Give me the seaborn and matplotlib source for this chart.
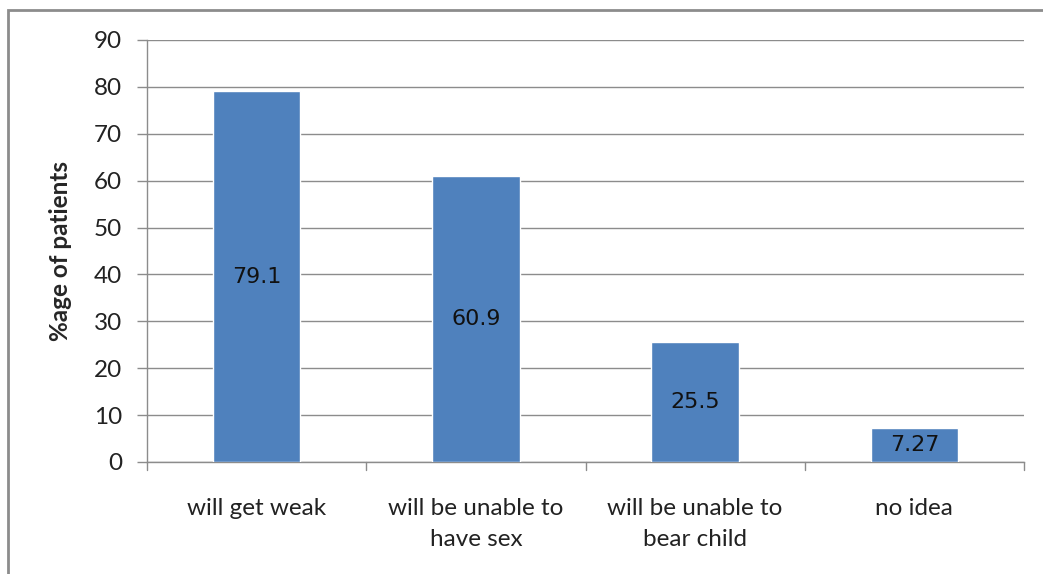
import matplotlib
matplotlib.use('Agg')
import matplotlib.pyplot as plt
import seaborn as sns
import pandas as pd
from matplotlib.patches import Rectangle

categories = ['will get weak', 'will be unable to\nhave sex', 'will be unable to\nbear child', 'no idea']
values = [79.1, 60.9, 25.5, 7.27]
labels = ['79.1', '60.9', '25.5', '7.27']
yticks = [0, 10, 20, 30, 40, 50, 60, 70, 80, 90]

sns.set_style('white')
plt.rcParams['font.family'] = ['Lato', 'DejaVu Sans']

df = pd.DataFrame({'cat': categories, 'val': values})

fig = plt.figure(figsize=(10.43, 5.74), dpi=100)
ax = fig.add_axes([147 / 1043, 1 - 462 / 574, (1024 - 147) / 1043, (462 - 40) / 574])

sns.barplot(data=df, x='cat', y='val', color='#4F81BD', saturation=1, width=0.4, ax=ax, zorder=3)

ax.set_ylim(0, 90)
ax.set_xlim(-0.5, 3.5)
ax.set_yticks(yticks)
ax.set_yticklabels([str(t) for t in yticks], fontsize=17.5, color='#222222')
ax.set_xticks(range(len(categories)))
ax.set_xticklabels(categories, fontsize=17.5, color='#222222', linespacing=1.6)
ax.tick_params(axis='x', length=0, pad=26)
ax.tick_params(axis='y', length=7, width=1, color='#8c8c8c', pad=11, left=True)
ax.set_xlabel('')
ax.set_ylabel('%age of patients', fontsize=17.5, fontweight='bold', labelpad=16)
ax.yaxis.grid(True, color='#8c8c8c', linewidth=1, zorder=0)
ax.set_axisbelow(True)

for s in ['top', 'right']:
    ax.spines[s].set_visible(False)
for s in ['left', 'bottom']:
    ax.spines[s].set_color('#8c8c8c')
    ax.spines[s].set_linewidth(1)

# category boundary ticks under the x axis
for b in [-0.5, 0.5, 1.5, 2.5, 3.5]:
    ax.plot([b, b], [0, -1.8], color='#8c8c8c', lw=1, clip_on=False)

for i, (v, lab) in enumerate(zip(values, labels)):
    ax.text(i, v / 2, lab, ha='center', va='center', fontsize=16, color='#111111',
            family=['DejaVu Sans'], zorder=4)

fig.patches.append(Rectangle((8 / 1043, -0.05), 1.1, 1 - 10 / 574 + 0.05,
                             transform=fig.transFigure, fill=False,
                             edgecolor='#8c8c8c', linewidth=2))

fig.savefig('out.png', dpi=100)
